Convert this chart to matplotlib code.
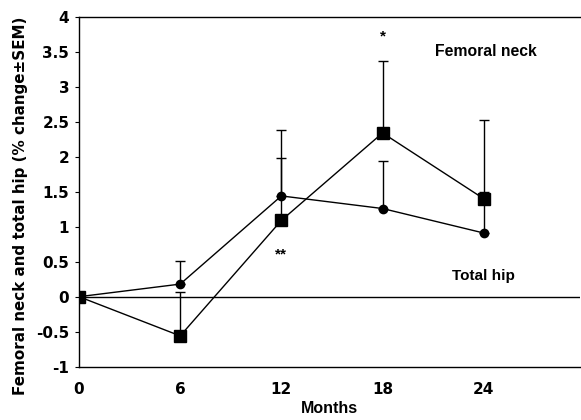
import numpy as np
import matplotlib
matplotlib.use("Agg")
import matplotlib.pyplot as plt

plt.rcParams['font.family'] = ['Liberation Sans', 'DejaVu Sans']
plt.rcParams['font.weight'] = 'bold'

# months of follow-up
months = [0, 6, 12, 18, 24]

# femoral neck (squares)
neck_mean = [0.0, -0.56, 1.09, 2.34, 1.40]
neck_sem = [0.0, 0.63, 1.29, 1.03, 1.12]

# total hip (circles)
hip_mean = [0.0, 0.18, 1.44, 1.26, 0.91]
hip_sem = [0.0, 0.33, 0.54, 0.68, 0.59]

yticks = [-1, -0.5, 0, 0.5, 1, 1.5, 2, 2.5, 3, 3.5, 4]
ytick_labels = ['-1', '-0.5', '0', '0.5', '1', '1.5', '2', '2.5', '3', '3.5', '4']

fig = plt.figure(figsize=(5.81, 4.2), dpi=100)
ax = fig.add_axes([0.136, 0.127, 0.862, 0.833])

# zero line
ax.axhline(0, color='black', linewidth=1.0, zorder=1)

# total hip
ax.errorbar(months, hip_mean, yerr=[np.zeros(len(hip_sem)), hip_sem],
            fmt='-o', color='black', markersize=6, linewidth=1.0,
            elinewidth=1.0, capsize=3.5, capthick=1.0, zorder=3)
# femoral neck
ax.errorbar(months, neck_mean, yerr=[np.zeros(len(neck_sem)), neck_sem],
            fmt='-s', color='black', markersize=8.5, linewidth=1.0,
            elinewidth=1.0, capsize=3.5, capthick=1.0, zorder=4)

ax.text(18, 3.72, '*', ha='center', va='center', fontsize=11)
ax.text(12, 0.6, '**', ha='center', va='center', fontsize=11)
ax.text(24.1, 3.5, 'Femoral neck', ha='center', va='center', fontsize=11.3)
ax.text(24, 0.3, 'Total hip', ha='center', va='center', fontsize=11)

ax.set_xlim(0, 29.7)
ax.set_ylim(-1, 4)
ax.set_xticks(months)
ax.set_yticks(yticks)
ax.set_yticklabels(ytick_labels)
ax.tick_params(axis='x', labelsize=11, length=0, pad=11)
ax.tick_params(axis='y', labelsize=11, length=3, direction='out', pad=4)
for lbl in ax.get_xticklabels() + ax.get_yticklabels():
    lbl.set_family('DejaVu Sans')
ax.spines['right'].set_visible(False)
for s in ['left', 'top', 'bottom']:
    ax.spines[s].set_linewidth(1.0)

ax.set_xlabel('Months', fontsize=11.5, fontweight='bold', labelpad=3)
ax.set_ylabel('Femoral neck and total hip (% change\u00b1SEM)',
              fontsize=10.9, fontweight='bold', family='DejaVu Sans')
ax.yaxis.set_label_coords(-0.102, 0.46)

fig.savefig('out.png', dpi=100)
